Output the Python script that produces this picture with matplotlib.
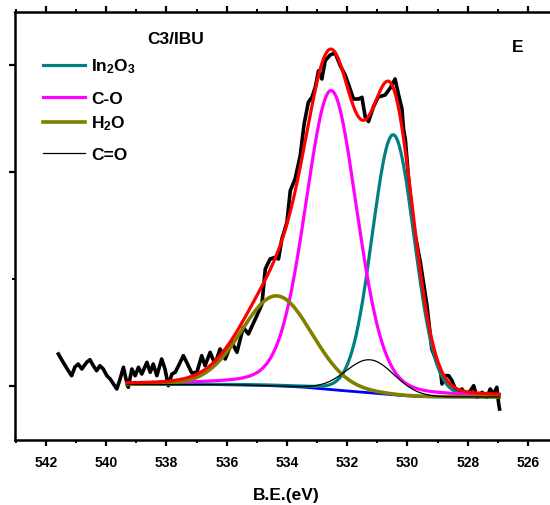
import numpy as np
import matplotlib
matplotlib.use('Agg')
import matplotlib.pyplot as plt
from matplotlib.lines import Line2D

plt.rcParams['font.family'] = ['Liberation Sans', 'DejaVu Sans']
plt.rcParams['font.weight'] = 'bold'
plt.rcParams['mathtext.fontset'] = 'custom'
plt.rcParams['mathtext.rm'] = 'Liberation Sans:bold'
plt.rcParams['mathtext.bf'] = 'Liberation Sans:bold'
plt.rcParams['mathtext.it'] = 'Liberation Sans:bold'

# ---- measured spectrum (binding energy, eV / intensity, a.u.) ----
be_data = [541.59, 541.43, 541.26, 541.15, 541.04, 540.93, 540.81, 540.65, 540.54, 540.43,
           540.32, 540.21, 540.10, 539.98, 539.87, 539.76, 539.65, 539.54, 539.43, 539.32,
           539.27, 539.15, 539.04, 538.93, 538.82, 538.65, 538.54, 538.44, 538.32, 538.16,
           538.05, 537.94, 537.82, 537.71, 537.60, 537.44, 537.33, 537.16, 536.99, 536.83,
           536.72, 536.55, 536.39, 536.22, 536.05, 535.83, 535.66, 535.45, 535.28, 535.00,
           534.83, 534.72, 534.56, 534.39, 534.28, 534.17, 534.00, 533.89, 533.73, 533.56,
           533.43, 533.29, 533.17, 533.06, 532.95, 532.84, 532.73, 532.56, 532.40, 532.23,
           532.07, 531.96, 531.79, 531.62, 531.51, 531.40, 531.29, 531.13, 530.97, 530.74,
           530.57, 530.41, 530.30, 530.18, 530.13, 530.07, 529.96, 529.80, 529.57, 529.35,
           529.19, 529.02, 528.91, 528.85, 528.80, 528.63, 528.52, 528.41, 528.30, 528.19,
           528.08, 527.91, 527.80, 527.69, 527.52, 527.36, 527.25, 527.14, 527.03, 526.97,
           526.94]
cps_data = [860, 777, 693, 643, 730, 760, 710, 777, 803, 743,
            693, 743, 710, 643, 610, 560, 510, 610, 727, 577,
            527, 710, 643, 727, 660, 777, 677, 760, 643, 810,
            710, 543, 660, 677, 743, 843, 777, 670, 677, 843,
            743, 877, 760, 910, 810, 977, 877, 1127, 1060, 1243,
            1360, 1710, 1810, 1827, 1810, 2010, 2177, 2493, 2610, 2843,
            3160, 3377, 3427, 3527, 3693, 3610, 3793, 3852, 3870, 3743,
            3652, 3560, 3410, 3410, 3427, 3230, 3185, 3330, 3430, 3450,
            3520, 3610, 3460, 3310, 3110, 3010, 2610, 2143, 1777, 1343,
            910, 777, 710, 560, 643, 643, 593, 510, 477, 510,
            443, 493, 543, 427, 477, 427, 510, 460, 527, 360,
            310]

# ---- fitted components (pseudo-Voigt) ----
peak_names = ['In$_2$O$_3$', 'C-O', 'H$_2$O', 'C=O']
peak_centers = [530.47, 532.53, 534.34, 531.24]
peak_heights = [2600, 2990, 900, 330]
peak_fwhm = [1.65, 2.03, 2.74, 1.88]
peak_lorentz = [0.06, 0.2, 0.04, 0.0]
peak_colors = ['#008080', '#FF00FF', '#808000', '#000000']
peak_widths = [2.3, 2.3, 2.6, 0.9]

# background end points (Shirley)
bg_be_range = [539.31, 526.95]
bg_levels = [555, 430]

xticks_major = [542, 540, 538, 536, 534, 532, 530, 528, 526]

# ---- model ----
E = np.linspace(bg_be_range[1], bg_be_range[0], 500)  # ascending
comps = []
for c, h, w, m in zip(peak_centers, peak_heights, peak_fwhm, peak_lorentz):
    d2 = (E - c) ** 2 / w ** 2
    g = np.exp(-4 * np.log(2) * d2)
    l = 1.0 / (1.0 + 4 * d2)
    comps.append(h * ((1 - m) * g + m * l))
total = np.sum(comps, axis=0)
cum = np.cumsum(total)
frac = (cum - cum[0]) / (cum[-1] - cum[0])
bg = bg_levels[1] + (bg_levels[0] - bg_levels[1]) * frac
envelope = bg + total

# ---- figure ----
W, H = 550, 506
fig = plt.figure(figsize=(W / 100, H / 100), dpi=100)
ax_l, ax_r, ax_t, ax_b = 15, 558, 13, 441
ax = fig.add_axes([ax_l / W, 1 - ax_b / H, (ax_r - ax_l) / W, (ax_b - ax_t) / H])

ax.plot(be_data, cps_data, color='black', lw=2.6, zorder=2, solid_joinstyle='round')
ax.plot(E, bg, color='#0000FF', lw=2.0, zorder=3)
for comp, col, lw in zip(comps, peak_colors, peak_widths):
    ax.plot(E, bg + comp, color=col, lw=lw, zorder=4)
ax.plot(E, envelope, color='#FF0000', lw=2.3, zorder=5)

ax.set_xlim(543.03, 525.0)
ax.set_ylim(0, 4280)
ax.set_xticks(xticks_major)
ax.set_xticks(np.arange(543, 525, -1), minor=True)
ax.set_yticks([540, 2680, 3750])
ax.set_yticks([1610], minor=True)
ax.set_yticklabels([])
for lbl in ax.get_xticklabels():
    lbl.set_fontweight('bold')
ax.tick_params(axis='x', which='major', direction='out', length=4.5, width=1.6,
               labelsize=10, pad=6, top=True)
ax.tick_params(axis='x', which='minor', direction='out', length=2.5, width=1.4, top=True)
ax.tick_params(axis='y', which='major', direction='out', length=4.5, width=1.6)
ax.tick_params(axis='y', which='minor', direction='out', length=2.0, width=1.4)
for s in ['left', 'bottom', 'top']:
    ax.spines[s].set_linewidth(1.8)
ax.spines['right'].set_visible(False)

ax.set_xlabel('B.E.(eV)', fontsize=12.5, fontweight='bold', labelpad=13)

def fx(x):
    return x / W

def fy(y):
    return 1 - y / H

fig.text(fx(176), fy(40), 'C3/IBU', fontsize=12.5, fontweight='bold', ha='center', va='center')
fig.text(fx(518), fy(48), 'E', fontsize=12.5, fontweight='bold', ha='center', va='center')

leg_y = [66, 98, 123, 154]
for name, col, lw, y in zip(peak_names, peak_colors, peak_widths, leg_y):
    fig.add_artist(Line2D([fx(43), fx(85)], [fy(y), fy(y)], color=col,
                          lw=lw if lw > 1 else 0.9, transform=fig.transFigure))
    fig.text(fx(91), fy(y + 1), name, fontsize=12.5, fontweight='bold', ha='left', va='center')

fig.savefig('out.png', dpi=100)
